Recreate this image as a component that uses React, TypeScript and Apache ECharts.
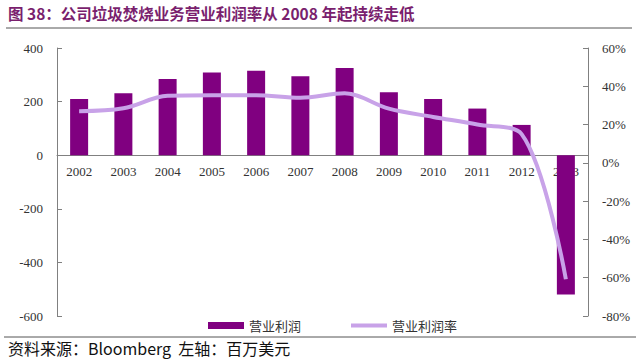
import React, { useEffect, useRef } from "react";
import * as echarts from "echarts";

const categories = ["2002", "2003", "2004", "2005", "2006", "2007", "2008", "2009", "2010", "2011", "2012", "2013"];
const operatingProfit = [210, 231, 284, 309, 315, 295, 325, 235, 210, 174, 113, -520];
const operatingMargin = [27, 28.5, 35, 35.3, 35.3, 34, 36.3, 28.3, 24, 20, 15, -60.8];
const leftTicks = { min: -600, max: 400, interval: 200 };
const rightTicks = { min: -80, max: 60, interval: 20 };

const TITLE = "图 38：公司垃圾焚烧业务营业利润率从 2008 年起持续走低";
const SOURCE = "资料来源：Bloomberg  左轴：百万美元";

export default function App() {
  const ref = useRef<HTMLDivElement>(null);
  useEffect(() => {
    if (!ref.current) return;
    const chart = echarts.init(ref.current, null, { renderer: "svg" });
    const axisLabelFont = { fontFamily: "Liberation Serif", fontSize: 13, color: "#333" };
    const gridTop = 48;
    const gridBottom = 45;
    const gridHeight = 361 - gridTop - gridBottom;
    const zeroOffset = -gridHeight * (0 - leftTicks.min) / (leftTicks.max - leftTicks.min);
    chart.setOption({
      animation: false,
      backgroundColor: "#fff",
      grid: { left: 57, right: 52, top: gridTop, bottom: gridBottom, containLabel: false },
      graphic: [
        {
          type: "text",
          left: 8,
          top: 5,
          style: {
            text: TITLE,
            fontFamily: "Noto Sans CJK SC",
            fontWeight: "bold",
            fontSize: 15.5,
            fill: "#7a1f6e",
          },
        },
        { type: "line", shape: { x1: 6, y1: 28, x2: 632, y2: 28 }, style: { stroke: "#555", lineWidth: 1 } },
        { type: "line", shape: { x1: 4, y1: 337, x2: 636, y2: 337 }, style: { stroke: "#555", lineWidth: 1 } },
        {
          type: "text",
          left: 8,
          top: 340,
          style: { text: SOURCE, fontFamily: "Noto Sans CJK SC", fontSize: 16, fill: "#111" },
        },
      ],
      legend: [
        {
          data: [{ name: "营业利润", icon: "rect" }],
          left: 203,
          top: 314,
          itemWidth: 36,
          itemHeight: 7,
          textStyle: { fontFamily: "Noto Sans CJK SC", fontSize: 13, color: "#333" },
        },
        {
          data: [{ name: "营业利润率", icon: "rect", itemStyle: { color: "#c8a2e8" } }],
          left: 346,
          top: 314,
          itemWidth: 36,
          itemHeight: 4,
          textStyle: { fontFamily: "Noto Sans CJK SC", fontSize: 13, color: "#333" },
        },
      ],
      xAxis: {
        type: "category",
        data: categories,
        position: "bottom",
        offset: zeroOffset,
        axisLine: { onZero: false, lineStyle: { color: "#808080" } },
        axisTick: { inside: true, length: 4, lineStyle: { color: "#808080" } },
        axisLabel: { ...axisLabelFont, margin: 10, interval: 0 },
      },
      yAxis: [
        {
          type: "value",
          min: leftTicks.min,
          max: leftTicks.max,
          interval: leftTicks.interval,
          splitLine: { show: false },
          axisLine: { show: true, lineStyle: { color: "#808080" } },
          axisTick: { show: true, inside: true, length: 5, lineStyle: { color: "#808080" } },
          axisLabel: { ...axisLabelFont, margin: 14 },
        },
        {
          type: "value",
          min: rightTicks.min,
          max: rightTicks.max,
          interval: rightTicks.interval,
          position: "right",
          splitLine: { show: false },
          axisLine: { show: true, lineStyle: { color: "#808080" } },
          axisTick: { show: true, inside: true, length: 5, lineStyle: { color: "#808080" } },
          axisLabel: { ...axisLabelFont, margin: 14, formatter: (v: number) => `${v}%` },
        },
      ],
      series: [
        {
          name: "营业利润",
          type: "bar",
          data: operatingProfit,
          yAxisIndex: 0,
          barWidth: 18,
          itemStyle: { color: "#800080" },
          z: 3,
        },
        {
          name: "营业利润率",
          type: "line",
          data: operatingMargin,
          yAxisIndex: 1,
          smooth: 0.35,
          symbol: "none",
          lineStyle: { color: "#c8a2e8", width: 4 },
          itemStyle: { color: "#c8a2e8" },
          z: 4,
        },
      ],
    });
    return () => chart.dispose();
  }, []);
  return <div ref={ref} style={{ width: 640, height: 361, position: "absolute", left: 0, top: 0 }} />;
}
